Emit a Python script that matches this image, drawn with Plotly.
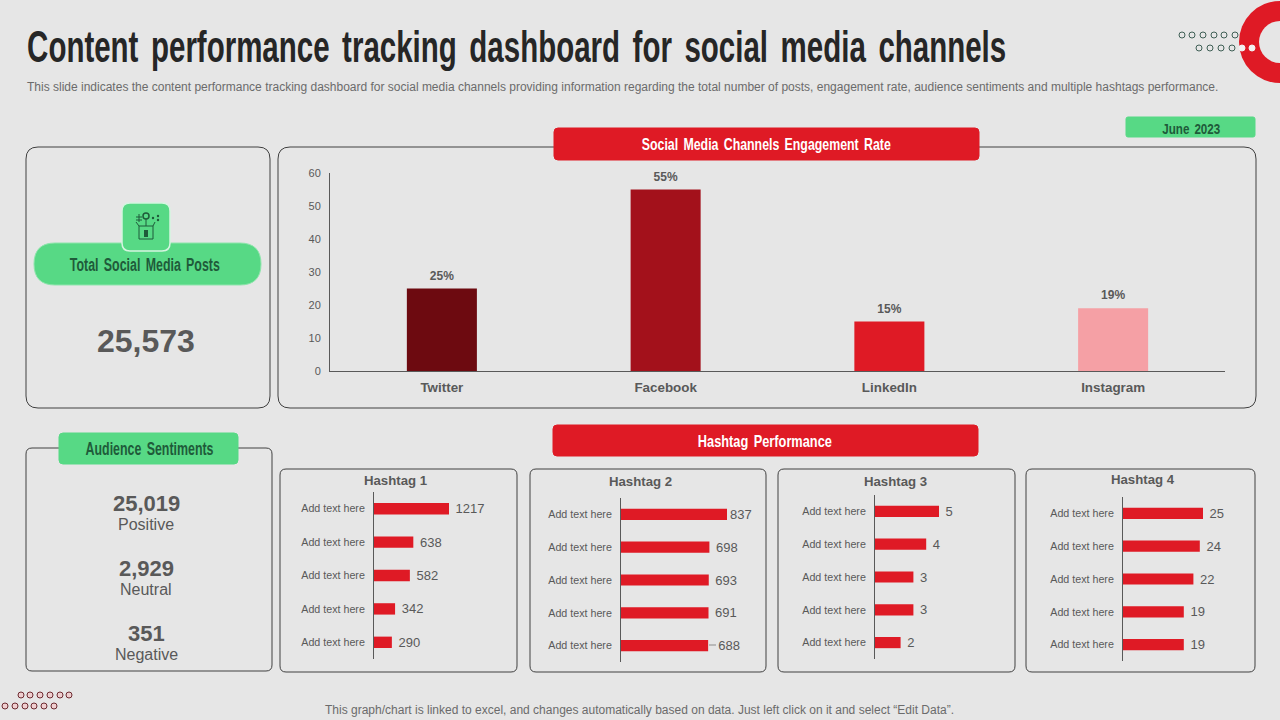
import json
import plotly.graph_objects as go

W = 1280
H = 720

channels = ["Twitter", "Facebook", "LinkedIn", "Instagram"]
engagement = [25, 55, 15, 19]
engagement_colors = ["#6D0A10", "#A3111B", "#DF1A25", "#F5A0A5"]
engagement_ticks = [0, 10, 20, 30, 40, 50, 60]

row_labels = ["Add text here"] * 5
hashtag_1 = [1217, 638, 582, 342, 290]
hashtag_2 = [837, 698, 693, 691, 688]
hashtag_3 = [5, 4, 3, 3, 2]
hashtag_4 = [25, 24, 22, 19, 19]

total_posts = "25,573"
sentiment_names = ["Positive", "Neutral", "Negative"]
sentiment_values = ["25,019", "2,929", "351"]

RED = "#DF1A25"
GREEN = "#57D985"
DARKGREEN = "#1F5B3A"
GREY = "#595959"
BG = "#E6E6E6"
LINE = "#404040"
SANS = "Liberation Sans"
NBSP = "\u00a0"

TITLE = "Content performance tracking dashboard for social media channels"

# headline text is squeezed to these widths (px), no condensed font is installed
squeezed = {
    TITLE: 979,
    "Social Media Channels Engagement Rate": 249,
    "Hashtag Performance": 134,
    "June 2023": 58,
    "Total Social Media Posts": 150,
    "Audience Sentiments": 128,
}


def px(x):
    return x / W


def py(y):
    return 1 - y / H


def rounded(x0, y0, x1, y1, r, fill="rgba(0,0,0,0)", line=LINE, width=1):
    X0, X1, Y0, Y1 = px(x0), px(x1), py(y0), py(y1)
    rx = r / W
    ry = r / H
    path = (
        f"M {X0+rx} {Y0} L {X1-rx} {Y0} Q {X1} {Y0} {X1} {Y0-ry} "
        f"L {X1} {Y1+ry} Q {X1} {Y1} {X1-rx} {Y1} "
        f"L {X0+rx} {Y1} Q {X0} {Y1} {X0} {Y1+ry} "
        f"L {X0} {Y0-ry} Q {X0} {Y0} {X0+rx} {Y0} Z"
    )
    return dict(type="path", path=path, xref="paper", yref="paper",
                fillcolor=fill, line=dict(color=line, width=width), layer="below")


def circle(cx, cy, r, fill, line="rgba(0,0,0,0)", width=1, layer="below"):
    return dict(type="circle", xref="paper", yref="paper",
                x0=px(cx - r), x1=px(cx + r), y0=py(cy + r), y1=py(cy - r),
                fillcolor=fill, line=dict(color=line, width=width), layer=layer)


def seg(x0, y0, x1, y1, color=DARKGREEN, width=1):
    return dict(type="line", xref="paper", yref="paper",
                x0=px(x0), x1=px(x1), y0=py(y0), y1=py(y1),
                line=dict(color=color, width=width), layer="above")


def label(x, y, text, size, color=GREY, bold=False, anchor="center"):
    return dict(x=px(x), y=py(y), xref="paper", yref="paper", text=text,
                showarrow=False, xanchor=anchor, yanchor="middle", borderpad=0,
                font=dict(family=SANS, size=size, color=color,
                          weight="bold" if bold else "normal"))


shapes = []
# panels
shapes.append(rounded(26, 147, 270, 408, 12))
shapes.append(rounded(278, 147, 1256, 408, 12))
shapes.append(rounded(26, 448, 272, 671, 6))
shapes.append(rounded(280, 469, 517, 672, 6))
shapes.append(rounded(530, 469, 766, 672, 6))
shapes.append(rounded(778, 469, 1015, 672, 6))
shapes.append(rounded(1026, 469, 1255, 672, 6))
# headers
shapes.append(rounded(554, 128, 979, 160, 4, RED, RED))
shapes.append(rounded(553, 425, 978, 456, 4, RED, RED))
shapes.append(rounded(1126, 117, 1255, 137, 2, GREEN, GREEN))
shapes.append(rounded(34, 243, 261, 285, 21, GREEN, "#8FE5AC"))
shapes.append(rounded(122, 203, 170, 251, 8, GREEN, "#D5F5E0", 1.5))
shapes.append(rounded(59, 433, 238, 464, 4, GREEN, GREEN))

# icon in the green tile
shapes.append(dict(type="rect", xref="paper", yref="paper", x0=px(139), x1=px(153),
                   y0=py(239), y1=py(226), line=dict(color=DARKGREEN, width=1),
                   fillcolor="rgba(0,0,0,0)", layer="above"))
shapes.append(dict(type="rect", xref="paper", yref="paper", x0=px(144), x1=px(148),
                   y0=py(237), y1=py(230), line=dict(color=DARKGREEN, width=0),
                   fillcolor=DARKGREEN, layer="above"))
shapes.append(circle(146, 216, 3, "rgba(0,0,0,0)", DARKGREEN, 1.5, "above"))
shapes.append(seg(146, 219, 146, 226))
shapes.append(seg(136, 217, 142, 217))
shapes.append(seg(136, 220, 142, 220))
shapes.append(seg(139, 214, 139, 222))
shapes.append(seg(139, 226, 136, 222))
shapes.append(seg(153, 226, 155, 222))
shapes.append(circle(158, 220, 1.2, DARKGREEN, layer="above"))
shapes.append(circle(153, 218, 1.2, DARKGREEN, layer="above"))
shapes.append(circle(158, 216, 1.2, DARKGREEN, layer="above"))

# ring and dots, top right
shapes.append(circle(1280, 42, 41, RED))
shapes.append(circle(1280, 42, 21, BG))
for x in [1182, 1192, 1203, 1214, 1224, 1235]:
    shapes.append(circle(x, 35, 3, BG, "#3F5F55", 1))
for x in [1199, 1210, 1221, 1232]:
    shapes.append(circle(x, 48, 3, BG, "#3F5F55", 1))
for x in [1242, 1252]:
    shapes.append(circle(x, 48, 3, "#F2F2F2", "#F2F2F2", 1))
# dots, bottom left
for x in [21, 30, 40, 50, 60, 69]:
    shapes.append(circle(x, 695, 3, "#EFCFD0", "#6D2A30", 1))
for x in [5, 15, 25, 34, 44, 54]:
    shapes.append(circle(x, 706, 3, "#EFCFD0", "#6D2A30", 1))
# leader line of the 688 label
shapes.append(seg(709, 645, 716, 645, "#8C8C8C", 1))

annotations = [
    label(516.5, 52, TITLE, 30, "#262626", True),
    label(26, 87, "This slide indicates the content performance tracking dashboard for social media channels "
          "providing information regarding the total number of posts, engagement rate, audience sentiments "
          "and multiple hashtags performance.", 12, "#6B6B6B", False, "left"),
    label(766, 145, "Social Media Channels Engagement Rate", 17, "#FFFFFF", True),
    label(765, 441, "Hashtag Performance", 17, "#FFFFFF", True),
    label(1191, 128, "June 2023", 15, DARKGREEN, True),
    label(145, 265, "Total Social Media Posts", 18, DARKGREEN, True),
    label(149, 449, "Audience Sentiments", 18, DARKGREEN, True),
    label(146, 341, total_posts, 32, GREY, True),
    label(146, 503, sentiment_values[0], 22, GREY, True),
    label(146, 524, sentiment_names[0], 16),
    label(146, 568, sentiment_values[1], 22, GREY, True),
    label(146, 589, sentiment_names[1], 16),
    label(146, 633, sentiment_values[2], 22, GREY, True),
    label(146, 654, sentiment_names[2], 16),
    label(639, 710, "This graph/chart is linked to excel, and changes automatically based on data. "
          "Just left click on it and select “Edit Data”.", 12, "#6B6B6B"),
    label(395, 480, "Hashtag 1", 13.2, GREY, True),
    label(640, 482, "Hashtag 2", 13.2, GREY, True),
    label(895, 482, "Hashtag 3", 13.2, GREY, True),
    label(1143, 479, "Hashtag 4", 13.2, GREY, True),
]

fig = go.Figure()
fig.add_trace(go.Bar(
    x=channels, y=engagement, marker=dict(color=engagement_colors, line=dict(width=0)),
    width=0.313, xaxis="x", yaxis="y",
))
fig.add_trace(go.Scatter(
    x=channels, y=engagement, mode="markers+text", text=[f"{v}%" for v in engagement],
    marker=dict(size=8, color="rgba(0,0,0,0)"),
    textposition="top center", cliponaxis=False,
    textfont=dict(family=SANS, size=12, color=GREY, weight="bold"),
    xaxis="x", yaxis="y",
))

layout_axes = dict(
    xaxis=dict(domain=[px(330), px(1225)], anchor="y", showgrid=False, zeroline=False,
               showline=True, linecolor=GREY, linewidth=1, ticks="", automargin=False,
               tickfont=dict(family=SANS, size=13.4, color=GREY, weight="bold"),
               ticklabelstandoff=4),
    yaxis=dict(domain=[py(371), py(173)], anchor="x", range=[0, 60], showgrid=False,
               zeroline=False, showline=True, linecolor=GREY, linewidth=1, ticks="",
               tickvals=engagement_ticks, tickfont=dict(family=SANS, size=11, color=GREY),
               ticklabelstandoff=6, automargin=False),
)

# values, axis x position, top, bottom, px per unit of value, right edge, label padding
panels = [
    (hashtag_1, 374, 492, 659, 75 / 1217, 510, [1, 1, 1, 1, 1]),
    (hashtag_2, 621, 498, 662, 106 / 837, 760, [0, 1, 1, 1, 2]),
    (hashtag_3, 875, 495, 659, 64 / 5, 1010, [1, 1, 1, 1, 1]),
    (hashtag_4, 1123, 497, 661, 80 / 25, 1250, [1, 1, 1, 1, 1]),
]
for n, (vals, left, top, bottom, scale, right, pads) in enumerate(panels, start=2):
    xa = f"x{n}"
    ya = f"y{n}"
    fig.add_trace(go.Bar(
        x=vals, y=list(range(5)), orientation="h", xaxis=xa, yaxis=ya,
        marker=dict(color=RED, line=dict(width=0)), width=0.34,
        text=[NBSP * p + str(v) for v, p in zip(vals, pads)],
        textposition="outside", cliponaxis=False, constraintext="none",
        textfont=dict(family=SANS, size=13, color=GREY),
    ))
    layout_axes[f"xaxis{n}"] = dict(domain=[px(left), px(right)], anchor=ya, automargin=False,
                                    range=[0, (right - left) / scale], visible=False)
    layout_axes[f"yaxis{n}"] = dict(domain=[py(bottom), py(top)], anchor=xa, automargin=False,
                                    range=[4.5, -0.5], showgrid=False, zeroline=False,
                                    showline=True, linecolor=GREY, linewidth=1, ticks="",
                                    tickmode="array", tickvals=list(range(5)), ticktext=row_labels,
                                    tickfont=dict(family=SANS, size=10.7, color=GREY),
                                    ticklabelstandoff=6)

fig.update_layout(
    width=W, height=H, autosize=False, showlegend=False,
    margin=dict(l=0, r=0, t=0, b=0, pad=0),
    paper_bgcolor=BG, plot_bgcolor="rgba(0,0,0,0)",
    shapes=shapes, annotations=annotations, **layout_axes,
)

squeeze_js = """
document.body.style.margin = '0';
document.body.style.background = '#E6E6E6';
var widths = %s;
var titleText = %s;
function squeeze() {
  document.querySelectorAll('.annotation-text').forEach(function (t) {
    var w = widths[t.textContent];
    if (w) {
      t.style.wordSpacing = '0.15em';
      t.setAttribute('textLength', w);
      t.setAttribute('lengthAdjust', 'spacingAndGlyphs');
    }
    if (t.textContent === titleText) {
      // tall narrow headline: stretch upwards from the baseline
      var y = parseFloat(t.getAttribute('y')) || 0;
      t.setAttribute('transform', 'translate(0 ' + y + ') scale(1 1.48) translate(0 ' + (-y) + ')');
    }
  });
}
squeeze();
setTimeout(squeeze, 50);
var gd = document.getElementById('{plot_id}');
if (gd && gd.on) gd.on('plotly_afterplot', squeeze);
""" % (json.dumps(squeezed), json.dumps(TITLE))

fig.write_html("out.html", post_script=squeeze_js, config=dict(displayModeBar=False))
